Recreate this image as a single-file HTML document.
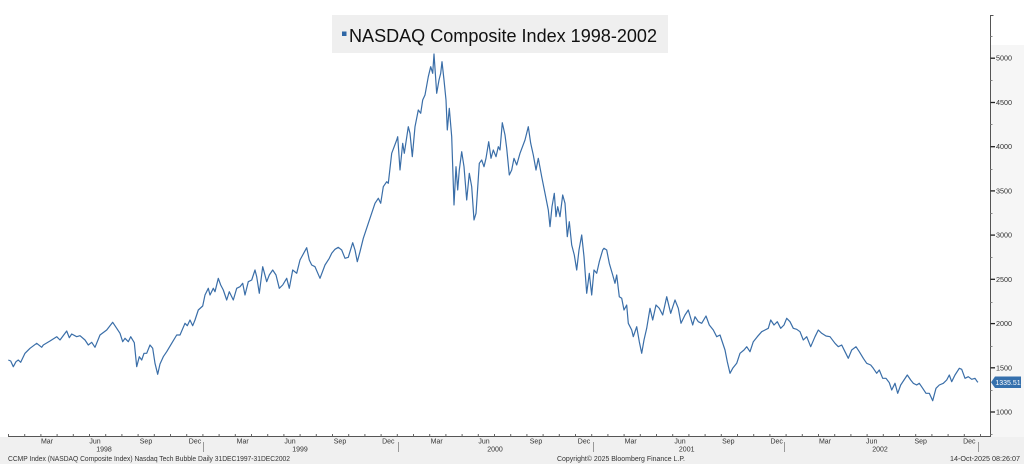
<!DOCTYPE html>
<html><head><meta charset="utf-8"><style>
html,body{margin:0;padding:0;background:#fff;}
svg{display:block;}
text{font-family:"Liberation Sans",Arial,sans-serif;}
</style></head><body>
<svg width="1024" height="468" viewBox="0 0 1024 468" xmlns="http://www.w3.org/2000/svg">
<rect x="0" y="0" width="1024" height="468" fill="#ffffff"/>
<rect x="991" y="45" width="33" height="392" fill="#f6f6f6"/>
<rect x="0" y="437" width="1024" height="27" fill="#f0f0f0"/>

<rect x="332" y="15" width="336" height="38" fill="#efefef"/>
<rect x="342" y="31.5" width="4.5" height="4.5" fill="#2f67a6"/>
<text x="349" y="42" font-size="18.5" fill="#111" textLength="308" lengthAdjust="spacingAndGlyphs">NASDAQ Composite Index 1998-2002</text>

<line x1="990.5" y1="15" x2="990.5" y2="437" stroke="#555" stroke-width="1"/>
<line x1="990.5" y1="15.5" x2="993.5" y2="15.5" stroke="#555" stroke-width="1"/>
<g stroke="#888" stroke-width="1">
<line x1="990.5" y1="36.5" x2="992.5" y2="36.5"/>
<line x1="990.5" y1="80.5" x2="992.5" y2="80.5"/>
<line x1="990.5" y1="124.5" x2="992.5" y2="124.5"/>
<line x1="990.5" y1="169.5" x2="992.5" y2="169.5"/>
<line x1="990.5" y1="213.5" x2="992.5" y2="213.5"/>
<line x1="990.5" y1="257.5" x2="992.5" y2="257.5"/>
<line x1="990.5" y1="302.5" x2="992.5" y2="302.5"/>
<line x1="990.5" y1="346.5" x2="992.5" y2="346.5"/>
<line x1="990.5" y1="390.5" x2="992.5" y2="390.5"/>
<line x1="990.5" y1="434.5" x2="992.5" y2="434.5"/>
</g>
<g stroke="#222" stroke-width="1.3">
<line x1="990.5" y1="58.2" x2="995" y2="58.2"/>
<line x1="990.5" y1="102.5" x2="995" y2="102.5"/>
<line x1="990.5" y1="146.7" x2="995" y2="146.7"/>
<line x1="990.5" y1="190.9" x2="995" y2="190.9"/>
<line x1="990.5" y1="235.1" x2="995" y2="235.1"/>
<line x1="990.5" y1="279.3" x2="995" y2="279.3"/>
<line x1="990.5" y1="323.6" x2="995" y2="323.6"/>
<line x1="990.5" y1="367.8" x2="995" y2="367.8"/>
<line x1="990.5" y1="412" x2="995" y2="412"/>
</g>
<g font-size="7.2" fill="#333">
<text x="996" y="60.7">5000</text>
<text x="996" y="105">4500</text>
<text x="996" y="149.2">4000</text>
<text x="996" y="193.4">3500</text>
<text x="996" y="237.6">3000</text>
<text x="996" y="281.8">2500</text>
<text x="996" y="326.1">2000</text>
<text x="996" y="370.3">1500</text>
<text x="996" y="414.5">1000</text>
</g>

<line x1="8" y1="436.5" x2="991" y2="436.5" stroke="#555" stroke-width="1"/>
<path fill="none" stroke="#666" stroke-width="1" d="M8.5 434v2.5M24.7 434v2.5M40.9 434v2.5M57.1 434v2.5M73.3 434v2.5M89.5 434v2.5M105.7 434v2.5M121.9 434v2.5M138.1 434v2.5M154.3 434v2.5M170.5 434v2.5M186.7 434v2.5M202.9 434v2.5M219.1 434v2.5M235.3 434v2.5M251.5 434v2.5M267.7 434v2.5M283.9 434v2.5M300.1 434v2.5M316.3 434v2.5M332.5 434v2.5M348.7 434v2.5M364.9 434v2.5M381.1 434v2.5M397.3 434v2.5M413.5 434v2.5M429.7 434v2.5M445.9 434v2.5M462.1 434v2.5M478.3 434v2.5M494.5 434v2.5M510.7 434v2.5M526.9 434v2.5M543.1 434v2.5M559.3 434v2.5M575.5 434v2.5M591.7 434v2.5M607.9 434v2.5M624.1 434v2.5M640.3 434v2.5M656.5 434v2.5M672.7 434v2.5M688.9 434v2.5M705.1 434v2.5M721.3 434v2.5M737.5 434v2.5M753.7 434v2.5M769.9 434v2.5M786.1 434v2.5M802.3 434v2.5M818.5 434v2.5M834.7 434v2.5M850.9 434v2.5M867.1 434v2.5M883.3 434v2.5M899.5 434v2.5M915.7 434v2.5M931.9 434v2.5M948.1 434v2.5M964.3 434v2.5M980.5 434v2.5"/>
<g font-size="7" fill="#333" text-anchor="middle">
<text x="47" y="443.5">Mar</text><text x="95" y="443.5">Jun</text><text x="146" y="443.5">Sep</text><text x="195" y="443.5">Dec</text>
<text x="242.7" y="443.5">Mar</text><text x="290" y="443.5">Jun</text><text x="340" y="443.5">Sep</text><text x="388.3" y="443.5">Dec</text>
<text x="436.7" y="443.5">Mar</text><text x="484" y="443.5">Jun</text><text x="536" y="443.5">Sep</text><text x="584" y="443.5">Dec</text>
<text x="630.7" y="443.5">Mar</text><text x="680" y="443.5">Jun</text><text x="728.3" y="443.5">Sep</text><text x="776.7" y="443.5">Dec</text>
<text x="825" y="443.5">Mar</text><text x="871.7" y="443.5">Jun</text><text x="920.7" y="443.5">Sep</text><text x="969.3" y="443.5">Dec</text>
<text x="104" y="451.5">1998</text><text x="300" y="451.5">1999</text><text x="495" y="451.5">2000</text><text x="686.7" y="451.5">2001</text><text x="880" y="451.5">2002</text>
</g>
<g stroke="#999" stroke-width="1">
<line x1="203.5" y1="442" x2="203.5" y2="452"/>
<line x1="398.5" y1="442" x2="398.5" y2="452"/>
<line x1="593.5" y1="442" x2="593.5" y2="452"/>
<line x1="784.5" y1="442" x2="784.5" y2="452"/>
<line x1="978.5" y1="442" x2="978.5" y2="452"/>
</g>
<g font-size="7" fill="#333">
<text x="8" y="461" textLength="282" lengthAdjust="spacingAndGlyphs">CCMP Index (NASDAQ Composite Index) Nasdaq Tech Bubble Daily 31DEC1997-31DEC2002</text>
<text x="557" y="461" textLength="128" lengthAdjust="spacingAndGlyphs">Copyright© 2025 Bloomberg Finance L.P.</text>
<text x="950" y="461" textLength="70" lengthAdjust="spacingAndGlyphs">14-Oct-2025 08:26:07</text>
</g>

<polyline fill="none" stroke="#3a6ea8" stroke-width="1.2" stroke-linejoin="round" points="8.3,360 10.7,361 13.3,366.7 16,361.7 18.3,360 20.7,362.3 25,353.3 30,348.3 36.7,343.3 41.7,347.3 43.3,345 50,341 56.7,336.7 60,340 66.7,331 69.3,337.7 71.7,334 76.7,336.7 80,335.7 85,340 88.3,345 91.7,342.3 95,347.3 100,335 106.7,330 112.7,322.3 116.7,328.3 120,333.3 122.7,341.7 125,338.3 128.3,341.7 130.7,336.7 134.3,342.7 136.7,366.7 139.3,356.7 141.7,360 144,353.3 146.7,353.3 150,345 152.7,348.3 155,363.3 157.7,374.3 160,364 163.3,356.7 166.7,351.7 171.7,343.3 176.7,335 180,335 185,323.3 187.3,325.7 190,320 192.7,325.7 195,320 198.3,310 202.7,306 205,295 208.3,288.3 210,295 213.3,288.3 215,291.7 218.3,278.3 220.7,285 223.3,290 226.7,300 229.3,291.7 233.3,300 236.7,288.3 240,286.7 242.7,283.3 245,295 248.3,281.7 251.7,280 255,270 256.7,276.7 259.3,293.3 262.7,266.7 266.7,281.7 269.3,275 272.7,270 276,275 279.3,288.3 282.7,285 286.7,278.3 289.3,288.3 292.7,270 296.7,273.3 300,260 306.7,247.7 309.3,260 311.7,265 315,266.7 320,278.3 325,265 329.3,258.3 331.7,253.3 335,249.3 338.3,247.3 341.7,250 345,258.3 348.3,257.3 352.7,242.7 355,250 357.3,261.7 360,251.7 363.3,238.3 368.3,223.3 375,203.3 378.3,198.3 380.7,203.3 383.3,186.7 386.7,181.7 388.3,183.3 391.7,153.3 396.7,140 397.7,136.7 400,170 402.7,143.3 404.3,153.3 408.3,126.7 410,133.3 412.3,156.7 415,126.7 418.3,110 420.7,113.3 422.7,100 425,95 428.3,76.7 430.7,66.7 432.7,73.3 434,54 436.7,93.3 439,80 440.7,73.3 442,61.7 444,80 446,100 447.3,130 449.3,108.3 451.7,136.7 454,205 456,166.7 457.7,190 459.3,170 461.7,151.7 464,166.7 466.7,200 469.3,173.3 471.7,186.7 474,220 476,213.3 479.3,163.3 481.7,160 484,166.7 486,158.3 488.7,141.7 491,158.3 493.3,150 496,156.7 498.3,146.7 500,150 502.3,122.7 505,135 506.7,148.3 509.3,175 511.7,170 514,158.3 516.7,165 520,153.3 525,140 528.3,126.7 530.7,143.3 533.3,155 536,170 538.3,158.3 541.7,176.7 545,193.3 548.3,210 550,226.7 552,206.7 554.3,193.3 556,216.7 557.7,206.7 560,216.7 562.7,195 565,203.3 567.3,236.7 569.3,221.7 571.7,245 574.3,255 576.7,270 579,250 581.7,235 584,256.7 586.7,293.3 589.3,273.3 591.7,295 594,270 596.7,273.3 599.3,261.7 602.7,250 604,248.3 606.7,250 609.3,263.3 612.7,275 615,283.3 616.7,275 619.3,296.7 621.7,298.3 624,310 626.7,305 628.3,323.3 631.7,330 633.3,336.7 636.7,326.7 639.3,341.7 641.7,353.3 644,340 646.7,328.3 650,308.3 652.7,320 656,305 659.3,308.3 662.7,315 666.7,296.7 670.7,313.3 675,300 678.3,308.3 681,323.3 685,315 688.3,310 692.7,325 695,316.7 698.3,321.7 701.7,323.3 706,316 709.3,325 713.3,330 716.7,336.7 720,335 725,350 727.3,361.7 730,373.3 732.7,368.3 736.7,363.3 740,353.3 744,350 746.7,346.7 750,351.7 753.3,341.7 757.3,336.7 761.7,331.7 765,330 768.3,328.3 770.7,320 774,325 777.3,321.7 780.7,328.3 784,325 786.7,318.3 790,321.7 793.3,328.3 796.7,329.3 800,331.7 803.3,340 806.7,336.7 810.7,346.7 815,336.7 818.3,330 821.7,333.3 826,336 830,336.7 835,343.3 838.3,346.7 841.7,345 845,351.7 848.3,358.3 851.7,350 856,346.7 859.3,351.7 863.3,358.3 866.7,363.3 870.7,365 873.3,368.3 876.7,373.3 879.3,370 882.7,378.3 886,378.3 889.3,382.7 891.7,390 895,383.3 897.7,393.3 900.7,385 904,380 907.3,375 910.7,380 913.3,383.3 916.7,385 919.3,383.3 922.7,388.3 926,393.3 929.3,393.3 932.7,400.7 936,388.3 939.3,385 943.3,383.3 946.7,380 949.3,375 951.7,381.7 955,375 959.3,368.3 961.7,369.3 965,378.3 968.3,376.7 971.7,379.3 975,378.3 977.3,381.7 978,382.3"/>

<polygon points="991,382.3 995,376.5 1021,376.5 1021,388 995,388" fill="#3570ad"/>
<text x="1008" y="385" font-size="7" fill="#fff" text-anchor="middle">1335.51</text>
</svg>
</body></html>
